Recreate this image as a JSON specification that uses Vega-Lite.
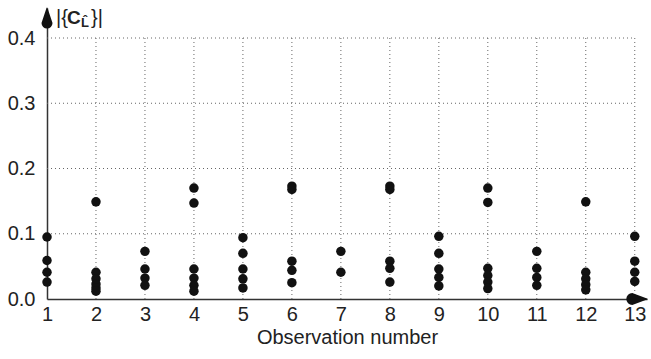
{
  "$schema": "https://vega.github.io/schema/vega-lite/v6.json",
  "width": 600,
  "height": 291,
  "autosize": "none",
  "padding": {"left": 47, "top": 8, "right": 4, "bottom": 60},
  "background": "white",
  "config": {"view": {"stroke": null}, "font": "Liberation Sans"},
  "datasets": {
    "pts": [
      {"obs": 1, "v": 0.095}, {"obs": 1, "v": 0.059}, {"obs": 1, "v": 0.041}, {"obs": 1, "v": 0.026},
      {"obs": 2, "v": 0.149}, {"obs": 2, "v": 0.041}, {"obs": 2, "v": 0.031}, {"obs": 2, "v": 0.023}, {"obs": 2, "v": 0.017}, {"obs": 2, "v": 0.012},
      {"obs": 3, "v": 0.073}, {"obs": 3, "v": 0.046}, {"obs": 3, "v": 0.032}, {"obs": 3, "v": 0.021},
      {"obs": 4, "v": 0.170}, {"obs": 4, "v": 0.147}, {"obs": 4, "v": 0.046}, {"obs": 4, "v": 0.032}, {"obs": 4, "v": 0.021}, {"obs": 4, "v": 0.012},
      {"obs": 5, "v": 0.094}, {"obs": 5, "v": 0.070}, {"obs": 5, "v": 0.046}, {"obs": 5, "v": 0.031}, {"obs": 5, "v": 0.017},
      {"obs": 6, "v": 0.173}, {"obs": 6, "v": 0.168}, {"obs": 6, "v": 0.058}, {"obs": 6, "v": 0.044}, {"obs": 6, "v": 0.025},
      {"obs": 7, "v": 0.073}, {"obs": 7, "v": 0.041},
      {"obs": 8, "v": 0.173}, {"obs": 8, "v": 0.168}, {"obs": 8, "v": 0.058}, {"obs": 8, "v": 0.047}, {"obs": 8, "v": 0.026},
      {"obs": 9, "v": 0.096}, {"obs": 9, "v": 0.070}, {"obs": 9, "v": 0.046}, {"obs": 9, "v": 0.033}, {"obs": 9, "v": 0.020},
      {"obs": 10, "v": 0.170}, {"obs": 10, "v": 0.148}, {"obs": 10, "v": 0.047}, {"obs": 10, "v": 0.036}, {"obs": 10, "v": 0.026}, {"obs": 10, "v": 0.016},
      {"obs": 11, "v": 0.073}, {"obs": 11, "v": 0.047}, {"obs": 11, "v": 0.033}, {"obs": 11, "v": 0.021},
      {"obs": 12, "v": 0.149}, {"obs": 12, "v": 0.041}, {"obs": 12, "v": 0.031}, {"obs": 12, "v": 0.022}, {"obs": 12, "v": 0.014},
      {"obs": 13, "v": 0.096}, {"obs": 13, "v": 0.058}, {"obs": 13, "v": 0.041}, {"obs": 13, "v": 0.027}
    ],
    "vgrid": [
      {"obs": 2, "y0": 0, "y1": 0.4}, {"obs": 3, "y0": 0, "y1": 0.4}, {"obs": 4, "y0": 0, "y1": 0.4},
      {"obs": 5, "y0": 0, "y1": 0.4}, {"obs": 6, "y0": 0, "y1": 0.4}, {"obs": 7, "y0": 0, "y1": 0.4},
      {"obs": 8, "y0": 0, "y1": 0.4}, {"obs": 9, "y0": 0, "y1": 0.4}, {"obs": 10, "y0": 0, "y1": 0.4},
      {"obs": 11, "y0": 0, "y1": 0.4}, {"obs": 12, "y0": 0, "y1": 0.4}, {"obs": 13, "y0": 0, "y1": 0.4}
    ],
    "hgrid": [
      {"v": 0.1, "x0": 1, "x1": 13}, {"v": 0.2, "x0": 1, "x1": 13},
      {"v": 0.3, "x0": 1, "x1": 13}, {"v": 0.4, "x0": 1, "x1": 13}
    ],
    "arrowheads": [
      {"g": "up", "k": 0, "obs": 1, "v": 0.423, "w": 11},
      {"g": "up", "k": 1, "obs": 1, "v": 0.446, "w": 0},
      {"g": "right", "k": 0, "obs": 12.95, "v": 0, "w": 12},
      {"g": "right", "k": 1, "obs": 13.25, "v": 0, "w": 0}
    ],
    "label": [{"obs": 1, "v": 0.4307}]
  },
  "layer": [
    {
      "data": {"name": "vgrid"},
      "mark": {"type": "rule", "color": "#666", "strokeDash": [1, 3], "strokeWidth": 1},
      "encoding": {
        "x": {"field": "obs", "type": "quantitative", "scale": {"domain": [1, 13.25], "nice": false, "zero": false},
          "axis": {"values": [1,2,3,4,5,6,7,8,9,10,11,12,13], "title": "Observation number", "grid": false,
            "ticks": false, "labelFontSize": 20, "labelColor": "#222", "labelPadding": 5,
            "titleFontSize": 20, "titleFontWeight": "normal", "titleColor": "#222", "titlePadding": 3,
            "domainColor": "#333", "domainWidth": 1.5, "labelFlush": false}},
        "y": {"field": "y0", "type": "quantitative", "scale": {"domain": [0, 0.446], "nice": false},
          "axis": {"values": [0, 0.1, 0.2, 0.3, 0.4], "format": ".1f", "title": null, "grid": false,
            "ticks": false, "labelFontSize": 20, "labelColor": "#222", "labelPadding": 12,
            "domainColor": "#333", "domainWidth": 1.5, "labelFlush": false}},
        "y2": {"field": "y1"}
      }
    },
    {
      "data": {"name": "hgrid"},
      "mark": {"type": "rule", "color": "#666", "strokeDash": [1, 3], "strokeWidth": 1},
      "encoding": {
        "y": {"field": "v", "type": "quantitative"},
        "x": {"field": "x0", "type": "quantitative"},
        "x2": {"field": "x1"}
      }
    },
    {
      "data": {"name": "pts"},
      "mark": {"type": "point", "filled": true, "color": "#111", "size": 90, "opacity": 1},
      "encoding": {
        "x": {"field": "obs", "type": "quantitative"},
        "y": {"field": "v", "type": "quantitative"}
      }
    },
    {
      "data": {"name": "arrowheads"},
      "mark": {"type": "trail", "color": "#111", "opacity": 1},
      "encoding": {
        "x": {"field": "obs", "type": "quantitative"},
        "y": {"field": "v", "type": "quantitative"},
        "detail": {"field": "g", "type": "nominal"},
        "order": {"field": "k", "type": "quantitative"},
        "size": {"field": "w", "type": "quantitative", "scale": null, "legend": null}
      }
    },
    {
      "data": {"name": "label"},
      "mark": {"type": "text", "align": "left", "baseline": "middle", "dx": 9, "fontSize": 20, "color": "#222", "text": "|{"},
      "encoding": {"x": {"field": "obs", "type": "quantitative"}, "y": {"field": "v", "type": "quantitative"}}
    },
    {
      "data": {"name": "label"},
      "mark": {"type": "text", "align": "left", "baseline": "middle", "dx": 20, "fontSize": 19, "fontWeight": "bold", "color": "#222", "text": "C"},
      "encoding": {"x": {"field": "obs", "type": "quantitative"}, "y": {"field": "v", "type": "quantitative"}}
    },
    {
      "data": {"name": "label"},
      "mark": {"type": "text", "align": "left", "baseline": "middle", "dx": 34, "dy": 5, "fontSize": 13, "fontWeight": "bold", "color": "#222", "text": "L̂"},
      "encoding": {"x": {"field": "obs", "type": "quantitative"}, "y": {"field": "v", "type": "quantitative"}}
    },
    {
      "data": {"name": "label"},
      "mark": {"type": "text", "align": "left", "baseline": "middle", "dx": 44, "fontSize": 20, "color": "#222", "text": "}|"},
      "encoding": {"x": {"field": "obs", "type": "quantitative"}, "y": {"field": "v", "type": "quantitative"}}
    }
  ]
}
